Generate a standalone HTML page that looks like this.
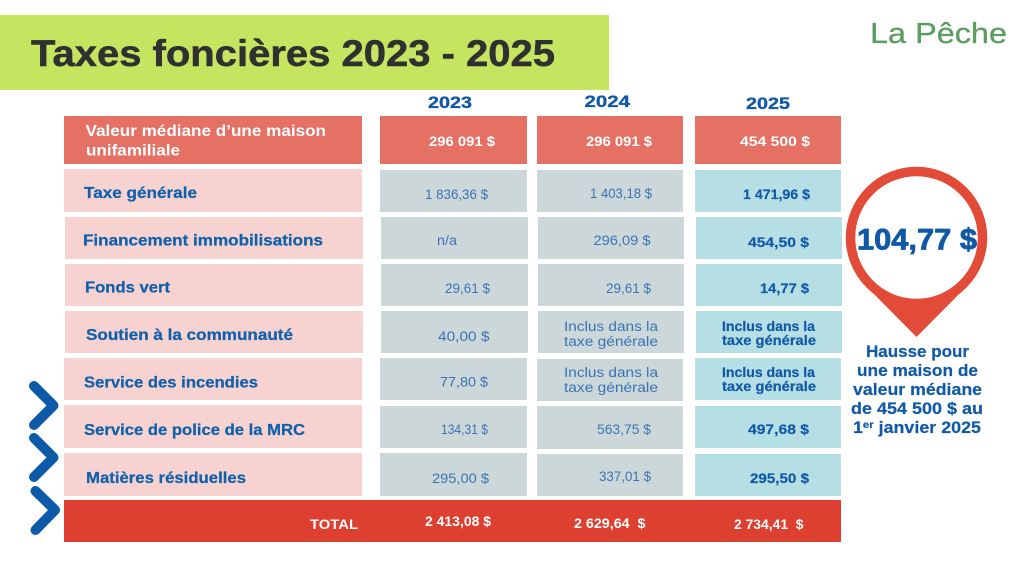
<!DOCTYPE html>
<html lang="fr">
<head>
<meta charset="utf-8">
<title>Taxes foncières 2023 - 2025</title>
<style>
html,body{margin:0;padding:0;background:#fff;width:1024px;height:576px;overflow:hidden}
svg{display:block}
text{font-family:"Liberation Sans",sans-serif;white-space:pre}
.label{font-size:15.8px;font-weight:700;fill:#1160ab;stroke:#1160ab;stroke-width:.25px}
.val{font-size:14.2px;font-weight:400;fill:#3a74b4}
.bval{font-size:14.2px;font-weight:700;fill:#1159a6;stroke:#1159a6;stroke-width:.2px}
.white{font-size:14.2px;font-weight:700;fill:#fff}
.year{font-size:16.6px;font-weight:700;fill:#1159a6;stroke:#1159a6;stroke-width:.3px}
.note{font-size:16.6px;font-weight:700;fill:#1159a6;stroke:#1159a6;stroke-width:.2px}
</style>
</head>
<body>
<svg xmlns="http://www.w3.org/2000/svg" width="1024" height="576" viewBox="0 0 1024 576">
<rect x="0" y="0" width="1024" height="576" fill="#fff"/>

<rect x="0" y="15" width="609" height="75" fill="#c5e560"/>
<text x="31" y="66" font-size="37" font-weight="700" fill="#2f3030" stroke="#2f3030" stroke-width="0.5" textLength="524" lengthAdjust="spacingAndGlyphs">Taxes foncières 2023 - 2025</text>
<text x="870" y="43" font-size="29" fill="#5a9e5e" stroke="#5a9e5e" stroke-width="0.3" textLength="137" lengthAdjust="spacingAndGlyphs">La Pêche</text>

<text class="year" x="428" y="108" textLength="44" lengthAdjust="spacingAndGlyphs">2023</text>
<text class="year" x="584.5" y="107" textLength="45.5" lengthAdjust="spacingAndGlyphs">2024</text>
<text class="year" x="746" y="109" textLength="44" lengthAdjust="spacingAndGlyphs">2025</text>

<g>
<rect x="64" y="116" width="298" height="48" fill="#e57064"/>
<rect x="380" y="116" width="147" height="48" fill="#e57064"/>
<rect x="537" y="116" width="146" height="48" fill="#e57064"/>
<rect x="695" y="116" width="146" height="48" fill="#e57064"/>
<text class="white" style="font-size:15.8px" x="85.5" y="136" textLength="240.5" lengthAdjust="spacingAndGlyphs">Valeur médiane d’une maison</text>
<text class="white" style="font-size:15.8px" x="86" y="155.5" textLength="94" lengthAdjust="spacingAndGlyphs">unifamiliale</text>
<text class="white" x="429" y="146" textLength="66" lengthAdjust="spacingAndGlyphs">296 091 $</text>
<text class="white" x="586" y="146" textLength="66" lengthAdjust="spacingAndGlyphs">296 091 $</text>
<text class="white" x="740" y="146" textLength="70" lengthAdjust="spacingAndGlyphs">454 500 $</text>
</g>

<g>
<rect x="64" y="169" width="298" height="43" fill="#f6d3d0"/>
<rect x="380" y="170" width="147" height="42" fill="#ccd7da"/>
<rect x="537" y="170" width="146" height="42" fill="#ccd7da"/>
<rect x="695" y="170" width="146" height="42" fill="#b5dfe5"/>
<text class="label" x="84" y="198" textLength="113" lengthAdjust="spacingAndGlyphs">Taxe générale</text>
<text class="val" x="425" y="199" textLength="63" lengthAdjust="spacingAndGlyphs">1 836,36 $</text>
<text class="val" x="590" y="198" textLength="62" lengthAdjust="spacingAndGlyphs">1 403,18 $</text>
<text class="bval" x="743" y="199" textLength="67" lengthAdjust="spacingAndGlyphs">1 471,96 $</text>
</g>

<g>
<rect x="65" y="217" width="298" height="42" fill="#f6d3d0"/>
<rect x="381" y="217" width="147" height="42" fill="#ccd7da"/>
<rect x="538" y="217" width="146" height="42" fill="#ccd7da"/>
<rect x="696" y="217" width="146" height="42" fill="#b5dfe5"/>
<text class="label" x="83" y="245.5" textLength="240" lengthAdjust="spacingAndGlyphs">Financement immobilisations</text>
<text class="val" x="437" y="245" textLength="20" lengthAdjust="spacingAndGlyphs">n/a</text>
<text class="val" x="593.5" y="245" textLength="57" lengthAdjust="spacingAndGlyphs">296,09 $</text>
<text class="bval" x="748" y="247" textLength="61" lengthAdjust="spacingAndGlyphs">454,50 $</text>
</g>

<g>
<rect x="65" y="264" width="298" height="42" fill="#f6d3d0"/>
<rect x="381" y="264" width="147" height="42" fill="#ccd7da"/>
<rect x="538" y="264" width="146" height="42" fill="#ccd7da"/>
<rect x="696" y="264" width="146" height="42" fill="#b5dfe5"/>
<text class="label" x="85" y="292.5" textLength="85" lengthAdjust="spacingAndGlyphs">Fonds vert</text>
<text class="val" x="445" y="293" textLength="45" lengthAdjust="spacingAndGlyphs">29,61 $</text>
<text class="val" x="606" y="293" textLength="45" lengthAdjust="spacingAndGlyphs">29,61 $</text>
<text class="bval" x="760" y="293" textLength="49" lengthAdjust="spacingAndGlyphs">14,77 $</text>
</g>

<g>
<rect x="65" y="311" width="298" height="42" fill="#f6d3d0"/>
<rect x="381" y="311" width="147" height="42" fill="#ccd7da"/>
<rect x="538" y="311" width="146" height="42" fill="#ccd7da"/>
<rect x="696" y="311" width="146" height="42" fill="#b5dfe5"/>
<text class="label" x="86" y="340" textLength="207" lengthAdjust="spacingAndGlyphs">Soutien à la communauté</text>
<text class="val" x="438" y="341" textLength="51.5" lengthAdjust="spacingAndGlyphs">40,00 $</text>
<text class="val" x="564" y="331" textLength="94" lengthAdjust="spacingAndGlyphs">Inclus dans la</text>
<text class="val" x="564" y="346" textLength="94" lengthAdjust="spacingAndGlyphs">taxe générale</text>
<text class="bval" style="font-size:13.4px" x="722" y="331" textLength="93" lengthAdjust="spacingAndGlyphs">Inclus dans la</text>
<text class="bval" style="font-size:13.4px" x="722" y="345" textLength="94" lengthAdjust="spacingAndGlyphs">taxe générale</text>
</g>

<g>
<rect x="64" y="358" width="298" height="42" fill="#f6d3d0"/>
<rect x="380" y="358" width="147" height="42" fill="#ccd7da"/>
<rect x="537" y="359" width="146" height="42" fill="#ccd7da"/>
<rect x="695" y="358" width="146" height="42" fill="#b5dfe5"/>
<text class="label" x="84" y="387.5" textLength="174" lengthAdjust="spacingAndGlyphs">Service des incendies</text>
<text class="val" x="440" y="386.5" textLength="48" lengthAdjust="spacingAndGlyphs">77,80 $</text>
<text class="val" x="564" y="377" textLength="94" lengthAdjust="spacingAndGlyphs">Inclus dans la</text>
<text class="val" x="564" y="392" textLength="94" lengthAdjust="spacingAndGlyphs">taxe générale</text>
<text class="bval" style="font-size:13.4px" x="722" y="377" textLength="93" lengthAdjust="spacingAndGlyphs">Inclus dans la</text>
<text class="bval" style="font-size:13.4px" x="722" y="391" textLength="94" lengthAdjust="spacingAndGlyphs">taxe générale</text>
</g>

<g>
<rect x="64" y="405" width="298" height="43" fill="#f6d3d0"/>
<rect x="380" y="406" width="147" height="42" fill="#ccd7da"/>
<rect x="537" y="406" width="146" height="43" fill="#ccd7da"/>
<rect x="695" y="406" width="146" height="42" fill="#b5dfe5"/>
<text class="label" x="84" y="435" textLength="221" lengthAdjust="spacingAndGlyphs">Service de police de la MRC</text>
<text class="val" x="441" y="434" textLength="47" lengthAdjust="spacingAndGlyphs">134,31 $</text>
<text class="val" x="597" y="434" textLength="54" lengthAdjust="spacingAndGlyphs">563,75 $</text>
<text class="bval" x="748" y="434" textLength="61" lengthAdjust="spacingAndGlyphs">497,68 $</text>
</g>

<g>
<rect x="64" y="453" width="298" height="43" fill="#f6d3d0"/>
<rect x="380" y="453" width="147" height="43" fill="#ccd7da"/>
<rect x="537" y="454" width="146" height="42" fill="#ccd7da"/>
<rect x="695" y="454" width="146" height="42" fill="#b5dfe5"/>
<text class="label" x="86" y="483" textLength="160" lengthAdjust="spacingAndGlyphs">Matières résiduelles</text>
<text class="val" x="432" y="483" textLength="57" lengthAdjust="spacingAndGlyphs">295,00 $</text>
<text class="val" x="599" y="481" textLength="52" lengthAdjust="spacingAndGlyphs">337,01 $</text>
<text class="bval" x="750" y="483" textLength="59" lengthAdjust="spacingAndGlyphs">295,50 $</text>
</g>

<g>
<rect x="64" y="500" width="777" height="42" fill="#dd3f30"/>
<text class="white" x="310" y="529" textLength="48" lengthAdjust="spacingAndGlyphs">TOTAL</text>
<text class="white" x="425" y="526" textLength="66" lengthAdjust="spacingAndGlyphs">2 413,08 $</text>
<text class="white" x="574" y="528" textLength="71.5" lengthAdjust="spacingAndGlyphs">2 629,64  $</text>
<text class="white" x="734" y="529" textLength="69.5" lengthAdjust="spacingAndGlyphs">2 734,41  $</text>
</g>

<g fill="none" stroke="#0d5ba8" stroke-width="10" stroke-linecap="round" stroke-linejoin="round">
<polyline points="34,386 53.5,405.5 34,425"/>
<polyline points="34,438 53.5,457.5 34,477"/>
<polyline points="35.5,491 55,510 35.5,530"/>
</g>

<g>
<polygon points="864,284 916.5,337 969,284" fill="#e24b38"/>
<circle cx="916.5" cy="237.5" r="66" fill="#fff" stroke="#e24b38" stroke-width="9.5"/>
<text x="857" y="249.5" font-size="30" font-weight="700" fill="#1159a6" stroke="#1159a6" stroke-width="0.8" textLength="120" lengthAdjust="spacingAndGlyphs">104,77 $</text>
</g>

<g>
<text class="note" x="866" y="357" textLength="103" lengthAdjust="spacingAndGlyphs">Hausse pour</text>
<text class="note" x="857" y="376" textLength="121" lengthAdjust="spacingAndGlyphs">une maison de</text>
<text class="note" x="853" y="395" textLength="129" lengthAdjust="spacingAndGlyphs">valeur médiane</text>
<text class="note" x="851" y="414" textLength="132" lengthAdjust="spacingAndGlyphs">de 454 500 $ au</text>
<text class="note" x="853" y="433" textLength="128" lengthAdjust="spacingAndGlyphs">1<tspan font-size="10.5" dy="-5">er</tspan><tspan dy="5"> janvier 2025</tspan></text>
</g>
</svg>
</body>
</html>
